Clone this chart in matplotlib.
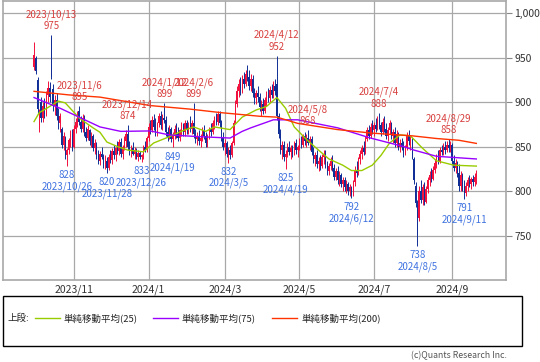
import matplotlib
matplotlib.use('Agg')
import matplotlib.pyplot as plt
from matplotlib.patches import Rectangle
from matplotlib.lines import Line2D
import numpy as np

plt.rcParams['font.family'] = ['Noto Sans CJK JP', 'DejaVu Sans']

# trading-day slots per month (2023/9 .. 2024/9)
month_names = ['2023/9', '2023/10', '2023/11', '2023/12', '2024/1', '2024/2', '2024/3',
               '2024/4', '2024/5', '2024/6', '2024/7', '2024/8', '2024/9']
month_days = [1, 22, 22, 21, 23, 21, 21, 22, 23, 20, 23, 22, 15]
tick_months = ['2023/11', '2024/1', '2024/3', '2024/5', '2024/7', '2024/9']

opens = [939, 950, 925, 870, 900, 882, 896, 886, 908, 916, 972,
         915, 896, 902, 884, 876, 870, 852, 860, 840, 846, 857, 864,
         850, 870, 878, 890, 878, 870, 882, 866, 860, 868, 856, 862, 848, 852, 840, 834, 842, 838, 830, 834, 826, 838,
         835, 845, 840, 848, 845, 855, 842, 850, 856, 864, 850, 844, 848, 842, 846, 838, 843, 838, 840, 850, 846,
         860, 872, 868, 880, 872, 866, 876, 884, 874, 882, 880, 866, 860, 870, 858, 862, 870, 864, 860, 868, 874, 866, 876,
         868, 874, 870, 876, 864, 858, 862, 856, 860, 868, 862, 854, 862, 870, 866, 876, 882, 878, 886, 876, 860,
         850, 854, 842, 846, 840, 854, 880, 898, 912, 920, 914, 926, 920, 932, 928, 918, 926, 910, 904, 910, 906,
         894, 898, 890, 902, 908, 904, 914, 908, 918, 920, 884, 864, 846, 852, 838, 842, 850, 844, 848, 842, 854, 846,
         850, 856, 852, 862, 856, 860, 854, 858, 844, 836, 840, 830, 834, 828, 838, 842, 830, 822, 828, 834, 826, 816, 822,
         812, 818, 808, 812, 804, 808, 800, 804, 796, 810, 824, 820, 836, 842, 848, 844, 858, 868, 862, 872,
         868, 874, 870, 880, 874, 866, 878, 870, 862, 868, 876, 862, 866, 854, 864, 850, 854, 850, 842, 848, 862, 856, 858,
         836, 806, 784, 770, 800, 790, 804, 788, 802, 812, 818, 814, 824, 832, 838, 834, 846, 844, 850, 846, 852, 848,
         852, 834, 826, 832, 820, 806, 818, 804, 798, 806, 812, 808, 814, 810, 816]
highs = [967, 952, 928, 892, 906, 900, 904, 912, 924, 922, 975,
         920, 908, 910, 893, 888, 872, 866, 862, 848, 860, 868, 870,
         874, 882, 890, 895, 884, 886, 885, 872, 874, 870, 866, 864, 858, 855, 846, 845, 850, 842, 840, 838, 842, 846,
         848, 852, 850, 856, 858, 860, 852, 862, 868, 874, 856, 852, 855, 850, 848, 846, 845, 842, 852, 856, 862,
         876, 880, 884, 886, 882, 878, 888, 890, 886, 899, 884, 872, 874, 872, 866, 874, 876, 872, 870, 878, 876, 880, 880,
         878, 884, 880, 899, 870, 866, 868, 864, 872, 874, 866, 864, 872, 876, 880, 884, 888, 890, 890, 880, 866,
         858, 856, 850, 852, 856, 880, 902, 918, 926, 928, 930, 934, 936, 942, 936, 932, 930, 916, 914, 918, 910,
         902, 904, 906, 912, 916, 918, 920, 924, 926, 952, 888, 870, 856, 856, 846, 854, 856, 852, 852, 856, 858, 852,
         860, 862, 864, 866, 864, 868, 862, 862, 850, 844, 846, 838, 840, 842, 846, 846, 834, 832, 838, 840, 830, 826, 828,
         822, 820, 816, 816, 812, 810, 808, 806, 812, 828, 834, 838, 846, 852, 856, 862, 872, 874, 876, 880,
         878, 882, 884, 888, 878, 882, 884, 876, 872, 880, 878, 870, 872, 868, 866, 858, 860, 856, 852, 866, 868, 862, 860,
         838, 810, 790, 806, 812, 808, 810, 806, 816, 822, 826, 828, 836, 842, 846, 850, 852, 854, 856, 856, 858, 856,
         854, 840, 836, 834, 830, 822, 820, 812, 810, 816, 818, 816, 818, 820, 824]
lows = [936, 932, 888, 866, 878, 878, 882, 884, 900, 900, 926,
        890, 885, 880, 870, 866, 848, 846, 836, 828, 842, 850, 845,
        848, 865, 872, 874, 866, 866, 862, 856, 857, 852, 850, 845, 842, 836, 830, 829, 836, 826, 825, 820, 824, 832,
        830, 836, 834, 842, 840, 838, 836, 846, 850, 846, 840, 838, 840, 836, 836, 834, 836, 833, 836, 844, 844,
        856, 864, 866, 868, 862, 862, 872, 870, 868, 876, 862, 856, 858, 855, 849, 858, 860, 856, 856, 862, 862, 862, 864,
        864, 866, 864, 860, 854, 852, 852, 850, 856, 858, 850, 850, 858, 862, 864, 870, 874, 874, 872, 856, 846,
        840, 838, 832, 836, 838, 852, 876, 894, 906, 908, 910, 916, 918, 924, 914, 912, 906, 898, 898, 900, 890,
        884, 886, 888, 896, 900, 900, 904, 904, 908, 880, 860, 842, 836, 834, 825, 838, 840, 836, 838, 840, 842, 838,
        846, 848, 850, 852, 850, 852, 846, 840, 832, 828, 826, 822, 824, 826, 830, 826, 818, 818, 824, 822, 812, 812, 808,
        806, 804, 800, 800, 798, 796, 794, 792, 794, 806, 816, 818, 830, 836, 840, 842, 856, 858, 860, 864,
        862, 866, 868, 870, 862, 864, 866, 858, 856, 864, 858, 854, 850, 850, 846, 844, 846, 838, 840, 846, 852, 846, 836,
        808, 782, 738, 766, 786, 784, 784, 786, 798, 806, 810, 812, 820, 826, 830, 832, 840, 840, 842, 844, 844, 844,
        830, 822, 820, 816, 800, 800, 800, 791, 794, 800, 804, 802, 806, 806, 808]
closes = [953, 935, 892, 888, 882, 896, 886, 908, 916, 906, 928,
          896, 902, 884, 876, 884, 852, 862, 840, 846, 857, 864, 850,
          870, 878, 886, 878, 870, 882, 866, 860, 870, 856, 862, 848, 854, 840, 834, 842, 838, 830, 836, 826, 838, 835,
          845, 840, 848, 845, 855, 842, 850, 858, 864, 850, 844, 848, 842, 846, 838, 843, 838, 840, 850, 846, 860,
          872, 868, 880, 872, 866, 876, 884, 874, 882, 880, 866, 860, 870, 858, 862, 870, 864, 860, 868, 874, 866, 876, 868,
          874, 870, 876, 864, 858, 862, 856, 860, 868, 862, 854, 862, 870, 866, 876, 882, 878, 886, 876, 860, 850,
          854, 842, 846, 840, 854, 876, 898, 912, 920, 914, 926, 920, 932, 928, 918, 926, 910, 904, 910, 906, 894,
          898, 890, 902, 908, 904, 914, 908, 918, 912, 884, 864, 846, 852, 838, 842, 850, 844, 848, 842, 854, 846, 850,
          856, 852, 862, 856, 860, 854, 858, 844, 836, 840, 830, 834, 828, 838, 842, 830, 822, 828, 834, 826, 816, 822, 812,
          818, 808, 812, 804, 808, 800, 804, 796, 810, 824, 820, 836, 842, 848, 844, 858, 868, 862, 872, 868,
          874, 870, 880, 874, 866, 878, 870, 862, 868, 876, 862, 866, 854, 864, 850, 854, 850, 842, 848, 862, 856, 858, 840,
          812, 786, 752, 800, 790, 804, 788, 802, 812, 818, 814, 824, 832, 838, 834, 846, 844, 850, 846, 852, 848, 852,
          834, 826, 832, 820, 806, 818, 804, 798, 806, 812, 808, 814, 810, 816, 820]

# moving averages read at sample points (trading-day index, value)
ma25_idx = [0, 3, 9, 14, 18, 26, 34, 38, 42, 48, 54, 63, 69, 78, 86, 92, 99, 104, 113, 120,
            128, 134, 140, 145, 150, 157, 164, 170, 178, 183, 189, 195, 200, 205, 211, 217, 224, 232, 242, 255]
ma25_val = [878, 888, 895, 901, 899, 882, 871, 866, 855, 850, 846, 844, 854, 861, 868, 872, 867, 872, 869, 883,
            891, 895, 905, 893, 872, 858, 846, 836, 829, 823, 823, 829, 840, 854, 863, 862, 848, 834, 829, 828]
ma75_idx = [0, 15, 38, 50, 67, 78, 96, 113, 120, 125, 138, 152, 175, 194, 213, 219, 232, 255]
ma75_val = [905, 893, 872, 867, 867.5, 863, 861, 859.5, 867, 871, 880, 880, 871, 859.5, 850, 846, 839, 836]
ma200_idx = [0, 20, 38, 67, 90, 108, 130, 140, 152, 175, 195, 218, 232, 245, 255]
ma200_val = [912, 908, 905.5, 896, 892, 888, 884, 883, 876, 869, 865, 862, 859, 857, 853.5]

# labelled highs and lows: (date, index, value)
high_marks = [('2023/10/13', 10, 975), ('2023/11/6', 26, 895), ('2023/12/14', 54, 874),
              ('2024/1/12', 75, 899), ('2024/2/6', 92, 899), ('2024/4/12', 140, 952),
              ('2024/5/8', 158, 868), ('2024/7/4', 199, 888), ('2024/8/29', 239, 858)]
low_marks = [('2023/10/26', 19, 828), ('2023/11/28', 42, 820), ('2023/12/26', 62, 833),
             ('2024/1/19', 80, 849), ('2024/3/5', 112, 832), ('2024/4/19', 145, 825),
             ('2024/6/12', 183, 792), ('2024/8/5', 221, 738), ('2024/9/11', 248, 791)]

y_ticks = [750, 800, 850, 900, 950, 1000]

UP = '#f2103c'
DOWN = '#102e96'
RED_TXT = '#d8403f'
BLUE_TXT = '#3f72e0'

fig = plt.figure(figsize=(5.4, 3.62), dpi=100)
ax = fig.add_axes([3 / 540, 1 - 280 / 362, 503 / 540, 279 / 362])

o = np.array(opens, float)
c = np.array(closes, float)
h = np.maximum(np.array(highs, float), np.maximum(o, c))
l = np.minimum(np.array(lows, float), np.minimum(o, c))
x = np.arange(len(c))
col = np.where(c >= o, UP, DOWN)

ax.vlines(x, l, h, colors=col, linewidth=0.7, zorder=3)
ax.bar(x, np.abs(c - o), bottom=np.minimum(o, c), width=0.75, color=col, linewidth=0, zorder=3)

ax.plot(ma25_idx, ma25_val, color='#99cc00', lw=1.0, zorder=4)
ax.plot(ma75_idx, ma75_val, color='#9900ff', lw=1.0, zorder=4)
ax.plot(ma200_idx, ma200_val, color='#ff3300', lw=1.0, zorder=4)

for d, i, v in high_marks:
    ax.annotate(f'{d}\n{v}', xy=(i, v), xytext=(0, 3), textcoords='offset points',
                ha='center', va='bottom', color=RED_TXT, fontsize=7, linespacing=1.15, zorder=6)
for d, i, v in low_marks:
    ax.annotate(f'{v}\n{d}', xy=(i, v), xytext=(0, -3), textcoords='offset points',
                ha='center', va='top', color=BLUE_TXT, fontsize=7, linespacing=1.15, zorder=6)

# month tick positions from the month slot counts
starts = np.concatenate([[0], np.cumsum(month_days)[:-1]])
tick_pos = [starts[month_names.index(m)] for m in tick_months]

ax.set_xlim(-17.9, 272.1)
ax.set_ylim(700, 1013.5)
ax.set_xticks(tick_pos)
ax.set_xticklabels(tick_months, fontsize=7.5, color='#333333')
ax.set_yticks(y_ticks)
ax.set_yticklabels([f'{v:,}' for v in y_ticks], fontsize=7.5, color='#333333')
ax.yaxis.tick_right()
ax.tick_params(axis='y', length=4, width=0.8, color='#888888', pad=2)
ax.tick_params(axis='x', length=0, pad=3)
ax.grid(True, color='#a8a8a8', linewidth=0.9, zorder=0)
ax.set_axisbelow(True)
for s in ax.spines.values():
    s.set_color('#a8a8a8')
    s.set_linewidth(1.2)

# legend box
fig.patches.append(Rectangle((3 / 540, 1 - 346 / 362), 519 / 540, 50 / 362, transform=fig.transFigure,
                             fill=False, edgecolor='black', linewidth=1.0))
ly = 1 - 318 / 362
fig.text(8 / 540, ly, '上段:', fontsize=6.8, va='center', ha='left', color='#222222')
legend_items = [('単純移動平均(25)', '#99cc00', 35), ('単純移動平均(75)', '#9900ff', 153),
                ('単純移動平均(200)', '#ff3300', 272)]
for lab, colr, x0 in legend_items:
    fig.lines.append(Line2D([x0 / 540, (x0 + 25) / 540], [ly, ly], transform=fig.transFigure,
                            color=colr, lw=1.0))
    fig.text((x0 + 29) / 540, ly, lab, fontsize=6.8, va='center', ha='left', color='#222222')

fig.text(507 / 540, 1 - 356 / 362, '(c)Quants Research Inc.', fontsize=6.3, ha='right', va='center',
         color='#555555')

fig.savefig('out.png', dpi=100)
